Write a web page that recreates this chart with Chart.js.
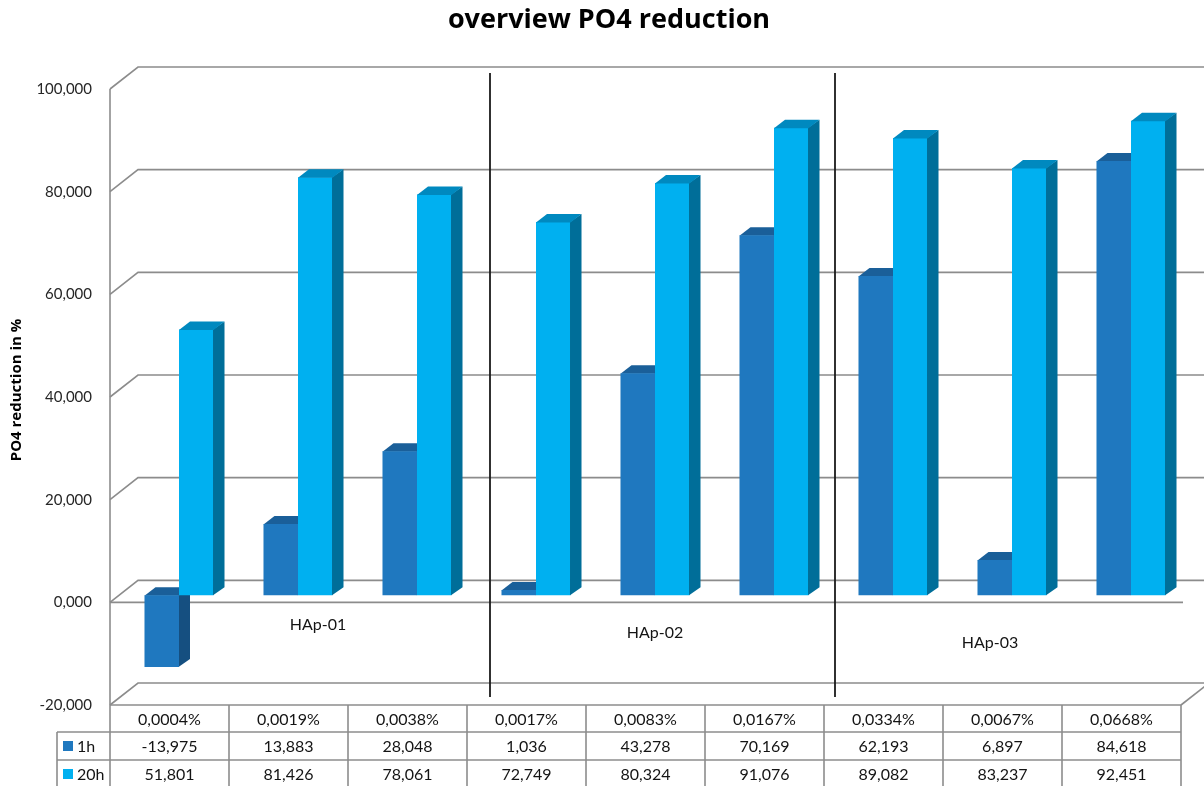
<!DOCTYPE html>
<html>
<head>
<meta charset="utf-8">
<title>overview PO4 reduction</title>
<script src="https://cdn.jsdelivr.net/npm/chart.js@4.4.1/dist/chart.umd.min.js"></script>
<style>
  html, body { margin: 0; padding: 0; background: #fff; }
  #wrap { position: relative; width: 1204px; height: 786px; }
</style>
</head>
<body>
<div id="wrap"><canvas id="po4Chart"></canvas></div>
<script>
// PO4 reduction (%) per HAp concentration, after 1h and after 20h
const concentrations = ['0,0004%', '0,0019%', '0,0038%', '0,0017%', '0,0083%', '0,0167%', '0,0334%', '0,0067%', '0,0668%'];
const red1h  = [-13.975, 13.883, 28.048, 1.036, 43.278, 70.169, 62.193, 6.897, 84.618];
const red20h = [51.801, 81.426, 78.061, 72.749, 80.324, 91.076, 89.082, 83.237, 92.451];
const seriesNames = ['1h', '20h'];
const groups = ['HAp-01', 'HAp-02', 'HAp-03'];
const yTicks = [-20, 0, 20, 40, 60, 80, 100];

// 1,000 style with decimal comma
const fmt = v => v.toFixed(3).replace('.', ',');

const faces = [
    { front: '#1f78bf', side: '#154f80', top: '#1a5f99' },
    { front: '#00b0f0', side: '#006e99', top: '#0089bf' }
];

// wall planes relative to the plane the bars stand in
const FRONT = { dx: -9.5, dy: 7 };
const BACK  = { dx: 18.5, dy: -15 };
const BAR_D = { dx: 11, dy: -8 };
const GRID = '#8c8c8c';
const TXT = '#141414';

function barBox(el) {
    const p = el.getProps(['x', 'y', 'base', 'width'], true);
    return {
        l: p.x - p.width / 2, r: p.x + p.width / 2,
        t: Math.min(p.y, p.base), b: Math.max(p.y, p.base)
    };
}

function drawSideTop(ctx, meta, c) {
    meta.data.forEach(el => {
        const b = barBox(el);
        ctx.fillStyle = c.side;
        ctx.beginPath();
        ctx.moveTo(b.r - 0.5, b.t);
        ctx.lineTo(b.r + BAR_D.dx, b.t + BAR_D.dy);
        ctx.lineTo(b.r + BAR_D.dx, b.b + BAR_D.dy);
        ctx.lineTo(b.r - 0.5, b.b);
        ctx.closePath();
        ctx.fill();
        ctx.fillStyle = c.top;
        ctx.beginPath();
        ctx.moveTo(b.l, b.t + 0.5);
        ctx.lineTo(b.l + BAR_D.dx, b.t + BAR_D.dy);
        ctx.lineTo(b.r + BAR_D.dx, b.t + BAR_D.dy);
        ctx.lineTo(b.r, b.t + 0.5);
        ctx.closePath();
        ctx.fill();
    });
}

function line(ctx, x1, y1, x2, y2) {
    ctx.beginPath();
    ctx.moveTo(x1, y1);
    ctx.lineTo(x2, y2);
    ctx.stroke();
}

const box3d = {
    id: 'box3d',
    beforeDatasetsDraw(chart) {
        const { ctx, chartArea: a, scales: { x, y } } = chart;
        const fl = a.left + FRONT.dx, fr = a.right + FRONT.dx;
        const bl = a.left + BACK.dx;
        ctx.save();
        ctx.strokeStyle = GRID;
        ctx.lineWidth = 1.6;
        // back wall gridlines with the left wall diagonals
        yTicks.forEach(v => {
            const py = y.getPixelForValue(v);
            ctx.beginPath();
            ctx.moveTo(fl, py + FRONT.dy);
            ctx.lineTo(bl, py + BACK.dy);
            ctx.lineTo(chart.width + 2, py + BACK.dy);
            ctx.stroke();
        });
        const yTop = y.getPixelForValue(100), y0 = y.getPixelForValue(0), yMin = y.getPixelForValue(-20);
        line(ctx, fl, yTop + FRONT.dy, fl, yMin + FRONT.dy);
        // floor front edge
        line(ctx, fl, y0 + FRONT.dy, fr + 2, y0 + FRONT.dy);
        // bottom right corner of the box
        line(ctx, fr, yMin + FRONT.dy, fr + BACK.dx - FRONT.dx, yMin + BACK.dy);
        // 1h sides go under the 20h fronts
        drawSideTop(ctx, chart.getDatasetMeta(0), faces[0]);
        ctx.restore();
    },
    afterDatasetsDraw(chart) {
        const { ctx } = chart;
        ctx.save();
        drawSideTop(ctx, chart.getDatasetMeta(1), faces[1]);
        ctx.restore();
    },
    afterDraw(chart) {
        const { ctx, chartArea: a, scales: { x, y } } = chart;
        const catW = x.getPixelForValue(1) - x.getPixelForValue(0);
        const fl = a.left + FRONT.dx, fr = a.right + FRONT.dx;
        const y0 = y.getPixelForValue(0);
        ctx.save();

        // title
        ctx.fillStyle = '#000';
        ctx.textAlign = 'center';
        ctx.textBaseline = 'middle';
        ctx.font = 'bold 27px "Open Sans"';
        ctx.fillText('overview PO4 reduction', 609, 20);

        // group separators
        ctx.strokeStyle = '#1a1a1a';
        ctx.lineWidth = 1.8;
        [[2.5, 13.5], [5.5, 1.5]].forEach(([v, off]) => {
            const px = x.getPixelForValue(v) + off;
            line(ctx, px, y.getPixelForValue(100) - 9, px, y.getPixelForValue(-20) - 1);
        });

        // group labels under the floor
        ctx.fillStyle = TXT;
        ctx.font = '16px Lato';
        [[1, 20, 30], [4, 0, 38], [7, -22, 48]].forEach(([c, dx, dy], i) => {
            ctx.fillText(groups[i], x.getPixelForValue(c) + dx, y0 + dy);
        });

        // data table
        const top = y.getPixelForValue(-20) + FRONT.dy;
        const rows = [top, top + 27, top + 55, top + 83];
        const legL = fl - 53;
        ctx.strokeStyle = GRID;
        ctx.lineWidth = 1.6;
        line(ctx, fl, rows[0], fr, rows[0]);
        line(ctx, legL, rows[1], fr, rows[1]);
        line(ctx, legL, rows[2], fr, rows[2]);
        line(ctx, legL, rows[1], legL, 790);
        for (let i = 0; i <= concentrations.length; i++) {
            const cx = fl + catW * i;
            line(ctx, cx, rows[0], cx, 790);
        }
        ctx.fillStyle = TXT;
        ctx.font = '16px Lato';
        concentrations.forEach((c, i) => {
            const cx = fl + catW * (i + 0.5);
            ctx.fillText(c, cx, (rows[0] + rows[1]) / 2 + 1);
            ctx.fillText(fmt(red1h[i]), cx, (rows[1] + rows[2]) / 2 + 1);
            ctx.fillText(fmt(red20h[i]), cx, (rows[2] + rows[3]) / 2 + 1);
        });
        // legend keys inside the table
        ctx.textAlign = 'left';
        seriesNames.forEach((n, i) => {
            const cy = (rows[i + 1] + rows[i + 2]) / 2;
            ctx.fillStyle = faces[i].front;
            ctx.fillRect(legL + 6, cy - 5, 10, 10);
            ctx.fillStyle = TXT;
            ctx.fillText(n, legL + 20, cy + 1);
        });
        ctx.restore();
    }
};

new Chart(document.getElementById('po4Chart'), {
    type: 'bar',
    data: {
        labels: concentrations,
        datasets: [
            { label: seriesNames[0], data: red1h, backgroundColor: faces[0].front },
            { label: seriesNames[1], data: red20h, backgroundColor: faces[1].front }
        ]
    },
    options: {
        responsive: true,
        maintainAspectRatio: false,
        animation: false,
        devicePixelRatio: 1,
        categoryPercentage: 0.58,
        barPercentage: 1,
        layout: { padding: { top: 82, right: 13.5, bottom: 88, left: 0 } },
        plugins: {
            legend: { display: false },
            title: { display: false },
            tooltip: { enabled: false }
        },
        scales: {
            x: { display: false },
            y: {
                min: -20, max: 100,
                afterFit: s => { s.width = 119.5; },
                afterBuildTicks: s => { s.ticks = yTicks.map(v => ({ value: v })); },
                grid: { display: false, drawTicks: false },
                border: { display: false },
                ticks: {
                    padding: 27.5,
                    labelOffset: 7,
                    color: '#262626',
                    font: { family: 'Lato', size: 15 },
                    callback: v => fmt(v)
                },
                title: {
                    display: true,
                    text: 'PO4 reduction in %',
                    color: '#000',
                    font: { family: 'Open Sans', size: 15, weight: 'bold' },
                    padding: { top: 8, bottom: 0 }
                }
            }
        }
    },
    plugins: [box3d]
});
</script>
</body>
</html>
